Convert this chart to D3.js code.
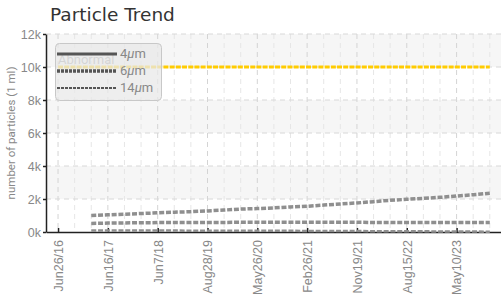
<!DOCTYPE html>
<html><head><meta charset="utf-8">
<script src="https://cdn.jsdelivr.net/npm/d3@7"></script>
<style>
body{margin:0;background:#fff;}
svg{display:block;font-family:"Liberation Sans Narrow","Roboto","Liberation Sans",sans-serif;}
</style></head>
<body><svg id="c" width="501" height="302"></svg>
<script>
// sample indices (x), every 4 samples
const samples = [8,12,16,20,24,28,32,36,40,44,48,52,56,60,64,68,72,76,80,84,88,92,96,100,104];
const um4  = [1000,1040,1080,1120,1160,1200,1230,1280,1330,1390,1420,1460,1520,1560,1630,1700,1760,1840,1920,1980,2040,2100,2180,2260,2350];
const um6  = [520,540,550,560,570,570,570,580,580,590,590,590,590,590,590,590,590,580,580,580,580,580,580,580,580];
const um14 = [90,90,90,85,85,85,80,80,80,75,75,70,70,65,65,60,55,50,50,45,40,35,30,25,20];
const abnormalX = [0,104];
const abnormalY = [10000,10000];
const tickSamples = [0,12,24,36,48,60,72,84,96];
const tickLabels = ["Jun26/16","Jun16/17","Jun7/18","Aug28/19","May26/20","Feb26/21","Nov19/21","Aug15/22","May10/23"];
const yTicks = [0,2000,4000,6000,8000,10000,12000];
const legendLabels = ["4","6","14"];

const svg = d3.select("#c");
const L = 46, R = 501, T = 34, B = 232;
const x = d3.scaleLinear().domain([-2.9, 106.7]).range([L, R]);
const y = d3.scaleLinear().domain([0, 12000]).range([B, T]);

// bands
for (let i = 0; i < yTicks.length - 1; i++) {
  if (i % 2 === 1) {
    svg.append("rect").attr("x", L).attr("y", y(yTicks[i+1])).attr("width", R - L)
      .attr("height", y(yTicks[i]) - y(yTicks[i+1])).attr("fill", "#f6f6f6");
  }
}
// minor vertical grid
const minor = d3.range(0, 107, 4);
svg.append("g").selectAll("line").data(minor).join("line")
  .attr("x1", d => x(d)).attr("x2", d => x(d)).attr("y1", T).attr("y2", B)
  .attr("stroke", d => d % 12 === 0 ? "#d4d4d4" : "#e6e6e6").attr("stroke-width", 1)
  .attr("stroke-dasharray", "5,4");
// horizontal grid
svg.append("g").selectAll("line").data(yTicks.slice(1)).join("line")
  .attr("x1", L).attr("x2", R).attr("y1", d => y(d)).attr("y2", d => y(d))
  .attr("stroke", "#d8d8d8").attr("stroke-dasharray", "5,4");

// axes
const yAxis = d3.axisLeft(y).tickValues(yTicks).tickFormat(d => (d/1000) + "k").tickSize(3).tickSizeOuter(0);
const gy = svg.append("g").attr("transform", `translate(${L},0)`).call(yAxis);
gy.select(".domain").attr("stroke", "#222").attr("stroke-width", 1.5);
gy.selectAll(".tick line").attr("stroke", "#222").attr("stroke-width", 1.5);
gy.selectAll("text").attr("fill", "#888").attr("font-size", 12.5).attr("x", -5);

const xAxis = d3.axisBottom(x).tickValues(tickSamples).tickFormat((d, i) => tickLabels[i]).tickSize(0).tickSizeOuter(0);
const gx = svg.append("g").attr("transform", `translate(0,${B})`).call(xAxis);
gx.select(".domain").attr("stroke", "#222").attr("stroke-width", 1.5);
gx.selectAll(".tick line").remove();
gx.selectAll(".tick").append("line").attr("y1", 0).attr("y2", -4).attr("stroke", "#222").attr("stroke-width", 1.5);
gx.selectAll("text").attr("fill", "#888").attr("font-size", 12.5)
  .attr("transform", "rotate(-90)").attr("text-anchor", "end").attr("x", -8).attr("y", 0).attr("dy", "0.35em");

// lines
const line = d3.line().x(d => x(d[0])).y(d => y(d[1]));
const grey = "#8f8f8f";
svg.append("path").datum(d3.zip(abnormalX, abnormalY)).attr("d", line)
  .attr("fill", "none").attr("stroke", "#ffcc00").attr("stroke-width", 3).attr("stroke-dasharray", "5,1.2");
svg.append("path").datum(d3.zip(samples, um4)).attr("d", line)
  .attr("fill", "none").attr("stroke", grey).attr("stroke-width", 3.5).attr("stroke-dasharray", "5,1.8");
svg.append("path").datum(d3.zip(samples, um6)).attr("d", line)
  .attr("fill", "none").attr("stroke", grey).attr("stroke-width", 3.5).attr("stroke-dasharray", "5,1.8");
svg.append("path").datum(d3.zip(samples, um14)).attr("d", line)
  .attr("fill", "none").attr("stroke", grey).attr("stroke-width", 2.5).attr("stroke-dasharray", "5,1.8");

// legend
const lg = svg.append("g");
lg.append("text").attr("x", 58).attr("y", 64).text("Abnormal").attr("fill", "#999").attr("font-size", 13);
lg.append("rect").attr("x", 55.5).attr("y", 43.5).attr("width", 106).attr("height", 57).attr("rx", 4)
  .attr("fill", "rgba(232,232,232,0.75)").attr("stroke", "#c8c8c8");
const ly = [54, 71, 88];
const lw = [3, 3.5, 2];
const ld = [null, "3,1", "3,1"];
legendLabels.forEach((t, i) => {
  lg.append("line").attr("x1", 57).attr("x2", 117).attr("y1", ly[i]).attr("y2", ly[i])
    .attr("stroke", "#555").attr("stroke-width", lw[i]).attr("stroke-dasharray", ld[i]);
  const tx = lg.append("text").attr("x", 120).attr("y", ly[i] + 4).attr("fill", "#888").attr("font-size", 13);
  tx.append("tspan").text(t);
  tx.append("tspan").attr("font-style", "italic").text("μ");
  tx.append("tspan").text("m");
});

// title
svg.append("text").attr("x", 50).attr("y", 21).text("Particle Trend")
  .attr("font-family", "DejaVu Sans, sans-serif").attr("font-size", 18.5).attr("fill", "#333");
// y label
svg.append("text").attr("transform", `translate(15,${(T + B) / 2}) rotate(-90)`).attr("text-anchor", "middle")
  .attr("fill", "#888").attr("font-size", 11.5).text("number of particles (1 ml)");
</script></body></html>
